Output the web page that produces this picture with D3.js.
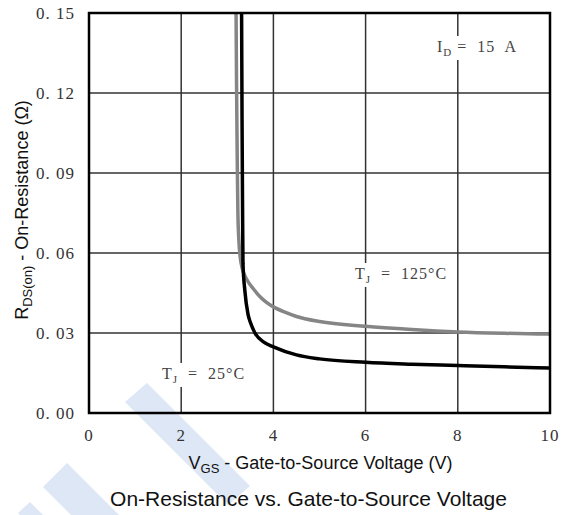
<!DOCTYPE html>
<html>
<head>
<meta charset="utf-8">
<script src="https://cdn.jsdelivr.net/npm/d3@7"></script>
<style>
	body { margin: 0; background: #fff; }
	.tickLabel { font-family: 'Liberation Serif', serif; font-size: 17px; fill: #333; letter-spacing: 1px; white-space: pre; }
	.note { font-family: 'Liberation Serif', serif; font-size: 16px; fill: #444; letter-spacing: 1px; white-space: pre; }
	.axisTitle { font-family: 'Liberation Sans', Arial, sans-serif; font-size: 18px; fill: #111; }
</style>
</head>
<body>
<div id="chart"></div>
<script>
const vgs25 = [3.31, 3.32, 3.33, 3.34, 3.38, 3.45, 3.5, 3.6, 3.8, 4.0, 4.5, 5, 6, 7, 8, 9, 10];
const rds25 = [0.15, 0.11, 0.08, 0.056, 0.046, 0.037, 0.034, 0.030, 0.0265, 0.0248, 0.0218, 0.0203, 0.019, 0.0183, 0.0178, 0.0173, 0.0169];
const vgs125 = [3.19, 3.2, 3.21, 3.22, 3.23, 3.25, 3.28, 3.32, 3.38, 3.46, 3.56, 3.7, 3.85, 4.0, 4.25, 4.5, 5, 6, 7, 8, 9, 10];
const rds125 = [0.15, 0.125, 0.105, 0.088, 0.075, 0.065, 0.0585, 0.0545, 0.0515, 0.049, 0.0467, 0.0438, 0.0415, 0.0398, 0.0378, 0.0362, 0.0343, 0.0325, 0.0313, 0.0304, 0.0299, 0.0296];
const xTicks = [0, 2, 4, 6, 8, 10];
const yTicks = [0, 0.03, 0.06, 0.09, 0.12, 0.15];

const width = 561, height = 515;
const margin = { top: 13, right: 11, bottom: 102, left: 89 };

const svg = d3.select('#chart').append('svg')
	.attr('width', width)
	.attr('height', height);

const x = d3.scaleLinear().domain([0, 10]).range([margin.left, width - margin.right]);
const y = d3.scaleLinear().domain([0, 0.15]).range([height - margin.bottom, margin.top]);

// faint watermark stripes
svg.append('g').attr('class', 'watermark')
	.selectAll('path')
	.data([
		'M125,402 L147,383 L250,486 L228,505 Z',
		'M43,487 L67,463 L119,515 L71,515 Z',
		'M18,513 L30,502 L43,515 L20,515 Z'
	])
	.enter()
	.append('path')
	.attr('d', d => d)
	.style('fill', '#dee7f5')

// grid
const grid = svg.append('g').attr('class', 'grid')
	.style('stroke', '#333').style('stroke-width', 1.5)
grid.selectAll('.vline')
	.data(xTicks.slice(1, -1))
	.enter()
	.append('line')
	.attr('x1', d => x(d)).attr('x2', d => x(d))
	.attr('y1', y(0)).attr('y2', y(0.15))
grid.selectAll('.hline')
	.data(yTicks.slice(1, -1))
	.enter()
	.append('line')
	.attr('x1', x(0)).attr('x2', x(10))
	.attr('y1', d => y(d)).attr('y2', d => y(d))

// tick labels
svg.append('g').selectAll('text')
	.data(xTicks)
	.enter()
	.append('text')
	.attr('class', 'tickLabel')
	.attr('x', d => x(d))
	.attr('y', y(0) + 28)
	.attr('text-anchor', 'middle')
	.text(d => d)

svg.append('g').selectAll('text')
	.data(yTicks)
	.enter()
	.append('text')
	.attr('class', 'tickLabel')
	.attr('x', x(0) - 14)
	.attr('y', d => y(d) + 6)
	.attr('text-anchor', 'end')
	.text(d => d3.format('.2f')(d).replace('.', '. '))

// curves
const line = d3.line()
	.x(d => x(d[0]))
	.y(d => y(d[1]))
	.curve(d3.curveMonotoneX)

const curves = [
	{ points: d3.zip(vgs125, rds125), color: '#858585' },
	{ points: d3.zip(vgs25, rds25), color: '#000' }
]
svg.append('g').selectAll('path')
	.data(curves)
	.enter()
	.append('path')
	.attr('d', d => line(d.points))
	.style('fill', 'none')
	.style('stroke', d => d.color)
	.style('stroke-width', 3.5)

// annotations with white knockout
function note(px, py, main, sub, rest) {
	let g = svg.append('g')
	let bg = g.append('rect').style('fill', '#fff')
	let t = g.append('text').attr('class', 'note').attr('x', px).attr('y', py)
	t.append('tspan').text(main)
	t.append('tspan').attr('dy', 4).style('font-size', '11px').text(sub)
	t.append('tspan').attr('dy', -4).text(rest)
	let b = t.node().getBBox()
	bg.attr('x', b.x - 3).attr('y', b.y - 2).attr('width', b.width + 6).attr('height', b.height + 4)
}
note(437, 52, 'I', 'D', ' =  15  A')
note(355, 279, 'T', 'J', '  =  125°C')
note(162, 379, 'T', 'J', '  =  25°C')

// frame
svg.append('rect')
	.attr('x', x(0)).attr('y', y(0.15))
	.attr('width', x(10) - x(0)).attr('height', y(0) - y(0.15))
	.style('fill', 'none')
	.style('stroke', '#000')
	.style('stroke-width', 2.5)

// axis titles
let xt = svg.append('text')
	.attr('class', 'axisTitle')
	.attr('x', (x(0) + x(10)) / 2 + 1)
	.attr('y', 469)
	.attr('text-anchor', 'middle')
xt.append('tspan').text('V')
xt.append('tspan').attr('dy', 4).style('font-size', '13px').text('GS')
xt.append('tspan').attr('dy', -4).text(' - Gate-to-Source Voltage (V)')

let yt = svg.append('text')
	.attr('class', 'axisTitle')
	.attr('transform', `translate(28, 210) rotate(-90)`)
	.attr('text-anchor', 'middle')
yt.append('tspan').text('R')
yt.append('tspan').attr('dy', 4).style('font-size', '13px').text('DS(on)')
yt.append('tspan').attr('dy', -4).text(' - On-Resistance (Ω)')

svg.append('text')
	.attr('class', 'axisTitle')
	.attr('x', (x(0) + x(10)) / 2 - 11)
	.attr('y', 506)
	.attr('text-anchor', 'middle')
	.style('font-size', '21px')
	.text('On-Resistance vs. Gate-to-Source Voltage')
</script>
</body>
</html>
